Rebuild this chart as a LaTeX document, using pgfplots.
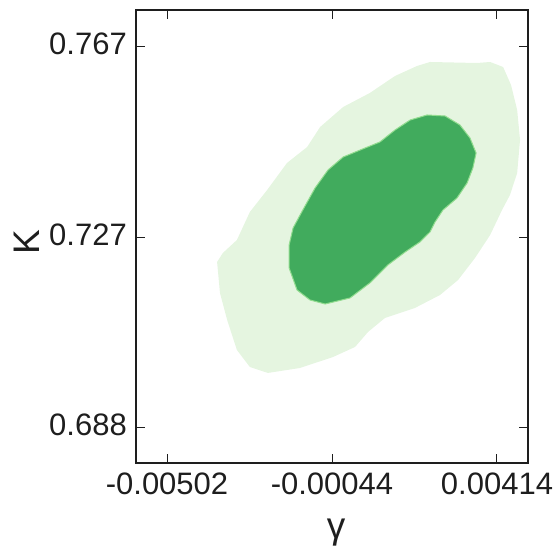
\documentclass[border=0pt]{standalone}
\usepackage{fontspec}
\setmainfont{Liberation Sans}
\usepackage{pgfplots}
\pgfplotsset{compat=1.18}
\definecolor{lightg}{HTML}{E5F5E0}
\definecolor{darkg}{HTML}{41AB5D}
\definecolor{edgeg}{HTML}{92DC8F}
\definecolor{txt}{HTML}{1E1E1E}
\begin{document}
\begin{tikzpicture}
\begin{axis}[
  scale only axis, width=392pt, height=453pt,
  xmin=-0.005881, xmax=0.005001, ymin=0.68074, ymax=0.77467,
  axis line style={line width=1.6pt, color=txt},
  tick align=inside, major tick length=9pt,
  every tick/.style={line width=1pt, color=txt},
  xtick={-0.00502,-0.00044,0.00414}, xticklabels={-0.00502,-0.00044,0.00414},
  ytick={0.688,0.7275,0.767}, yticklabels={0.688,0.727,0.767},
  scaled x ticks=false, scaled y ticks=false,
  /pgf/number format/assume math mode=true,
  tick label style={font=\fontsize{31}{37}\selectfont, text=txt, inner sep=0pt},
  xticklabel shift=10pt, yticklabel shift=9pt,
  yticklabel style={yshift=3pt},
  xlabel={γ}, ylabel={Κ},
  every axis x label/.style={at={([xshift=4pt,yshift=-76pt]axis description cs:0.5,0)}, anchor=base, inner sep=0pt, font=\fontsize{37}{44}\selectfont, text=txt},
  every axis y label/.style={at={([xshift=-96pt,yshift=-6pt]axis description cs:0,0.5)}, anchor=base, rotate=90, inner sep=0pt, font=\fontsize{37}{44}\selectfont, text=txt},
  axis on top,
]
\addplot[fill=lightg, draw=none] coordinates {
(0.00131,0.76099) (0.00192,0.76306) (0.00228,0.76389) (0.00358,0.76368)
(0.00395,0.76389) (0.00431,0.76285) (0.00453,0.75912) (0.00470,0.75394)
(0.00478,0.74772) (0.00470,0.74087) (0.00450,0.73631) (0.00428,0.73320)
(0.00395,0.72802) (0.00353,0.72325) (0.00306,0.71869) (0.00256,0.71558)
(0.00186,0.71288) (0.00103,0.71081) (0.00056,0.70791) (0.00020,0.70480)
(-0.00041,0.70272) (-0.00133,0.70044) (-0.00222,0.69941) (-0.00272,0.70065)
(-0.00308,0.70417) (-0.00335,0.71039) (-0.00355,0.71599) (-0.00363,0.72242)
(-0.00347,0.72429) (-0.00308,0.72698) (-0.00272,0.73279) (-0.00224,0.73735)
(-0.00169,0.74295) (-0.00113,0.74626) (-0.00077,0.75041) (-0.00013,0.75456)
(0.00061,0.75746)
} -- cycle;
\addplot[fill=darkg, draw=edgeg, line width=1pt] coordinates {
(0.00173,0.75186) (0.00220,0.75290) (0.00270,0.75269) (0.00311,0.75083)
(0.00339,0.74813) (0.00356,0.74502) (0.00347,0.74191) (0.00331,0.73880)
(0.00303,0.73569) (0.00264,0.73320) (0.00242,0.73071) (0.00228,0.72864)
(0.00200,0.72657) (0.00159,0.72449) (0.00111,0.72180) (0.00061,0.71807)
(0.00006,0.71496) (-0.00063,0.71371) (-0.00105,0.71454) (-0.00141,0.71661)
(-0.00163,0.72118) (-0.00163,0.72595) (-0.00152,0.72947) (-0.00125,0.73320)
(-0.00091,0.73776) (-0.00055,0.74150) (-0.00013,0.74419) (0.00048,0.74606)
(0.00089,0.74730) (0.00131,0.74979)
} -- cycle;
\end{axis}
\pgfresetboundingbox
\path[use as bounding box] ([shift={(-136pt,-87pt)}]current axis.south west) rectangle ([shift={(28pt,10pt)}]current axis.north east);
\end{tikzpicture}
\end{document}
